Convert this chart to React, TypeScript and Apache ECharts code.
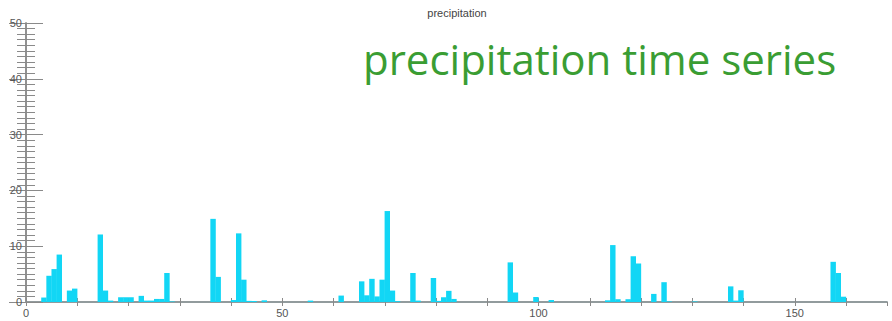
import React, { useEffect, useRef } from "react";
import * as echarts from "echarts";

// Hour index (bin start) of every non-zero precipitation bin, and its value
const rainHours = [
  3, 4, 5, 6, 8, 9, 14, 15, 16, 18, 19, 20, 22, 23, 24, 25, 26, 27, 28,
  36, 37, 40, 41, 42, 43, 44, 46, 55, 61, 65, 66, 67, 68, 69, 70, 71, 72,
  75, 76, 79, 80, 81, 82, 83, 94, 95, 99, 102, 113, 114, 115, 117, 118,
  119, 122, 124, 125, 130, 137, 138, 139, 157, 158, 159,
];
const rainValues = [
  0.8, 4.7, 5.9, 8.5, 2.05, 2.4, 12.1, 2.05, 0.25, 0.85, 0.85, 0.85, 1.1,
  0.25, 0.25, 0.55, 0.55, 5.2, 0.1, 14.9, 4.5, 0.35, 12.3, 4.0, 0.2, 0.2,
  0.3, 0.25, 1.15, 3.7, 1.2, 4.15, 1.0, 4.0, 16.3, 2.05, 0.15, 5.2, 0.25,
  4.3, 0.2, 0.85, 2.0, 0.55, 7.1, 1.7, 0.9, 0.35, 0.3, 10.2, 0.5, 0.5,
  8.2, 6.9, 1.45, 3.55, 0.1, 0.1, 2.8, 0.25, 2.1, 7.2, 5.2, 0.95,
];
const totalHours = 168;
const yMax = 50;
const xLabelTicks = [0, 50, 100, 150];
const chartTitle = "precipitation";
const overlayText = "precipitation time series";

export default function App() {
  const ref = useRef<HTMLDivElement>(null);
  useEffect(() => {
    if (!ref.current) return;
    const chart = echarts.init(ref.current, null, { renderer: "svg" });
    const full: number[] = new Array(totalHours).fill(0);
    rainHours.forEach((h, i) => (full[h] = rainValues[i]));
    const data = full.map((v, h) => [h + 0.5, v]);
    const axisGray = "#8a8a8a";
    const labelStyle = { color: "#555", fontSize: 11, fontFamily: "Liberation Sans, Arial, sans-serif" };
    chart.setOption({
      animation: false,
      backgroundColor: "#fff",
      grid: { left: 26, right: 5, top: 23, bottom: 19 },
      xAxis: [
        {
          type: "value",
          min: 0,
          max: totalHours,
          interval: 10,
          axisLine: { show: true, onZero: false, lineStyle: { color: "#90bcc8", width: 1.5 } },
          axisTick: { show: true, inside: true, length: 4, lineStyle: { color: axisGray } },
          axisLabel: {
            ...labelStyle,
            margin: 5,
            showMaxLabel: false,
            formatter: (v: number) => (xLabelTicks.includes(v) ? String(v) : ""),
          },
          splitLine: { show: false },
        },
        {
          type: "value",
          position: "top",
          min: 0,
          max: totalHours,
          interval: 10,
          axisLine: { show: true, lineStyle: { color: axisGray, width: 1.5 } },
          axisTick: { show: true, inside: true, length: 4, lineStyle: { color: axisGray } },
          axisLabel: { show: false },
          splitLine: { show: false },
        },
      ],
      yAxis: [
        {
          type: "value",
          min: 0,
          max: yMax,
          interval: 10,
          axisLine: { show: true, lineStyle: { color: axisGray, width: 1.5 } },
          axisTick: { show: true, inside: true, length: 17, lineStyle: { color: axisGray } },
          minorTick: { show: true, splitNumber: 10, length: 9, lineStyle: { color: axisGray } },
          axisLabel: { ...labelStyle, margin: 4 },
          splitLine: { show: false },
        },
        {
          type: "value",
          position: "right",
          min: 0,
          max: yMax,
          interval: 10,
          axisLine: { show: true, lineStyle: { color: axisGray, width: 1.5 } },
          axisTick: { show: true, inside: true, length: 17, lineStyle: { color: axisGray } },
          minorTick: { show: true, splitNumber: 10, length: 9, lineStyle: { color: axisGray } },
          axisLabel: { show: false },
          splitLine: { show: false },
        },
      ],
      series: [
        {
          type: "bar",
          xAxisIndex: 0,
          yAxisIndex: 0,
          data,
          barWidth: "106%",
          itemStyle: { color: "#12d6f5" },
        },
      ],
      graphic: [
        {
          type: "text",
          x: 457,
          y: 13,
          style: {
            text: chartTitle,
            fill: "#444",
            font: "11px Liberation Sans, Arial, sans-serif",
            align: "center",
            verticalAlign: "middle",
          },
        },
        {
          type: "text",
          x: 363,
          y: 58,
          style: {
            text: overlayText,
            fill: "#3a9d33",
            font: "42px 'Open Sans', sans-serif",
            align: "left",
            verticalAlign: "middle",
          },
        },
      ],
    });
    return () => chart.dispose();
  }, []);
  return (
    <div
      ref={ref}
      style={{ position: "fixed", left: 0, top: 0, width: 892, height: 321, background: "#fff" }}
    />
  );
}
